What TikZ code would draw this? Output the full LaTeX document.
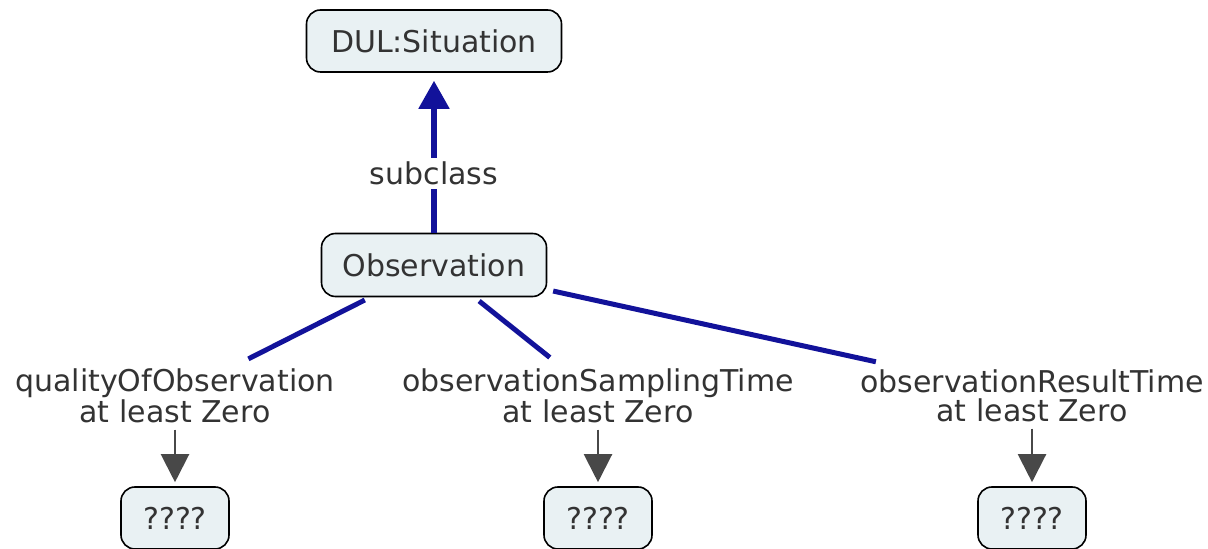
\documentclass[tikz,border=0pt]{standalone}
\usepackage{fontspec}
\setmainfont{DejaVu Sans}
\usetikzlibrary{arrows.meta}
\usepackage{xcolor}
\definecolor{boxfill}{HTML}{E9F1F3}
\definecolor{linkblue}{HTML}{12129A}
\definecolor{txtgray}{HTML}{333333}
\definecolor{arrgray}{HTML}{484848}

\begin{document}
\begin{tikzpicture}[x=0.5pt, y=-0.5pt, font=\fontsize{15}{14.5}\selectfont, text=txtgray,
	concept node/.style={shape=rectangle, rounded corners=7pt, draw=black, line width=0.8pt, fill=boxfill, inner sep=0},
	link node/.style={align=center, inner sep=3pt},
	sub edge/.style={draw=linkblue, line width=2.6pt, -{Triangle[width=15pt,length=14pt]}},
	rel edge/.style={draw=linkblue, line width=2.5pt},
	res edge/.style={draw=arrgray, line width=1.1pt, -{Triangle[width=14pt,length=14pt]}}]
		\useasboundingbox (0,0) rectangle (1208,549);
		\node[concept node, minimum width=127.5pt, minimum height=31pt] (sit) at (434,41){DUL:Situation};
		\node[concept node, minimum width=112.5pt, minimum height=31.5pt] (obs) at (434,265){Observation};
		%subclass link
		\path (obs) edge[sub edge, shorten >=4pt] node[pos=0.37, fill=white, inner sep=2pt, text=txtgray]{subclass} (sit);
		%properties + ranges
		\foreach \n/\x/\prop in {1/175/qualityOfObservation, 2/598/observationSamplingTime, 3/1032/observationResultTime}
		{
			\node[link node] (rel\n) at (\x,396){\prop\\at least Zero};
			\node[concept node, minimum width=54pt, minimum height=31pt] (rng\n) at (\x,518){????};
			\path (obs) edge[rel edge, shorten <=3pt, shorten >=4pt] (rel\n);
			\path (rel\n) edge[res edge, shorten >=2pt] (rng\n);
		}
\end{tikzpicture}
\end{document}
